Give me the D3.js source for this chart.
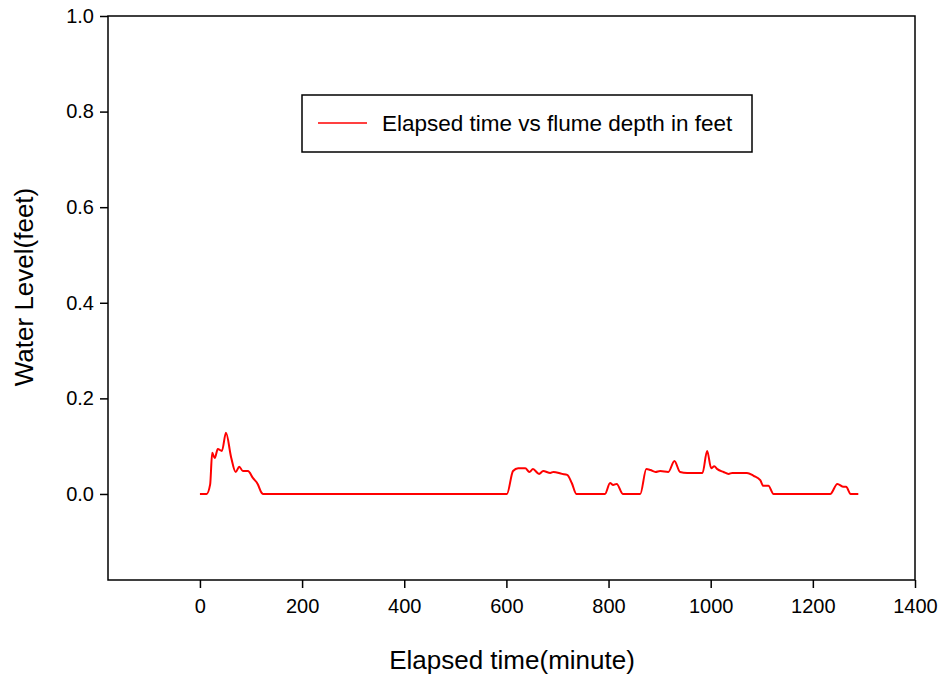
<!DOCTYPE html>
<html>
<head>
<meta charset="utf-8">
<script src="https://cdn.jsdelivr.net/npm/d3@7"></script>
<style>
  body { margin: 0; background: #fff; }
  svg { font-family: Arial, "Liberation Sans", sans-serif; }
</style>
</head>
<body>
<svg id="chart" width="945" height="679"></svg>
<script>
// elapsed time (minutes) and flume depth (feet)
const minutes = [0, 13, 20, 24, 29, 35, 43, 51, 61, 70, 77, 84, 94, 104, 113, 121, 124,
  601, 613, 623, 637, 645, 652, 664, 672, 686, 692, 709, 719, 728, 737,
  793, 803, 809, 816, 828,
  862, 874, 882, 892, 901, 917, 929, 940, 954, 984, 993, 1001, 1007, 1013, 1025, 1035, 1042, 1052, 1071, 1084, 1097, 1103, 1113, 1123,
  1234, 1248, 1260, 1265, 1274, 1289]
const depth = [0, 0, 0.02, 0.086, 0.075, 0.094, 0.09, 0.128, 0.077, 0.046, 0.057, 0.048, 0.048, 0.033, 0.021, 0.002, 0,
  0, 0.048, 0.054, 0.054, 0.046, 0.052, 0.042, 0.048, 0.044, 0.046, 0.042, 0.040, 0.023, 0,
  0, 0.023, 0.019, 0.021, 0,
  0, 0.052, 0.05, 0.046, 0.048, 0.046, 0.069, 0.046, 0.044, 0.044, 0.09, 0.054, 0.058, 0.052, 0.046, 0.042, 0.044, 0.044, 0.044, 0.038, 0.029, 0.017, 0.017, 0,
  0, 0.021, 0.015, 0.015, 0, 0]
const xTicks = [0, 200, 400, 600, 800, 1000, 1200, 1400]
const yTicks = [0.0, 0.2, 0.4, 0.6, 0.8, 1.0]
const seriesName = 'Elapsed time vs flume depth in feet'

const data = minutes.map((m, i) => ({ t: m, v: depth[i] }))

const plot = { left: 108, right: 915, top: 16, bottom: 580 }
const svg = d3.select('#chart')

var x = d3.scaleLinear().domain([-180, 1400]).range([plot.left, plot.right])
var y = d3.scaleLinear().domain([-0.18, 1.0]).range([plot.bottom, plot.top])

// frame
svg.append('rect')
    .attr('x', plot.left).attr('y', plot.top)
    .attr('width', plot.right - plot.left).attr('height', plot.bottom - plot.top)
    .attr('fill', 'none').attr('stroke', '#000').attr('stroke-width', 1.5)

// axes
const xAxis = svg.append('g')
    .attr('transform', `translate(0,${plot.bottom})`)
    .call(d3.axisBottom(x).tickValues(xTicks).tickSize(8).tickPadding(6).tickFormat(d3.format('d')))
const yAxis = svg.append('g')
    .attr('transform', `translate(${plot.left},0)`)
    .call(d3.axisLeft(y).tickValues(yTicks).tickSize(8).tickPadding(6).tickFormat(d3.format('.1f')))

;[xAxis, yAxis].forEach(g => {
    g.select('.domain').remove()
    g.selectAll('line').attr('stroke', '#000').attr('stroke-width', 1.5)
    g.selectAll('text').attr('font-size', 20).attr('fill', '#000')
        .style('font-family', 'Arial, "Liberation Sans", sans-serif')
})
xAxis.selectAll('text').attr('dy', '0.95em')

// axis titles
svg.append('text')
    .attr('x', 512).attr('y', 669)
    .attr('text-anchor', 'middle').attr('font-size', 26)
    .text('Elapsed time(minute)')
svg.append('text')
    .attr('transform', `translate(33,287) rotate(-90)`)
    .attr('text-anchor', 'middle').attr('font-size', 26)
    .text('Water Level(feet)')

// data line
svg.append('path')
    .datum(data)
    .attr('fill', 'none')
    .attr('stroke', '#ff0000')
    .attr('stroke-width', 2)
    .attr('stroke-linejoin', 'round')
    .attr('d', d3.line().curve(d3.curveMonotoneX).x(d => x(d.t)).y(d => y(d.v)))

// legend
const legend = svg.append('g')
legend.append('rect')
    .attr('x', 302).attr('y', 95).attr('width', 450).attr('height', 57)
    .attr('fill', '#fff').attr('stroke', '#000').attr('stroke-width', 1.5)
legend.append('line')
    .attr('x1', 318).attr('x2', 367).attr('y1', 123).attr('y2', 123)
    .attr('stroke', '#ff0000').attr('stroke-width', 1.5)
legend.append('text')
    .attr('x', 382).attr('y', 131).attr('font-size', 22.5)
    .text(seriesName)
</script>
</body>
</html>
